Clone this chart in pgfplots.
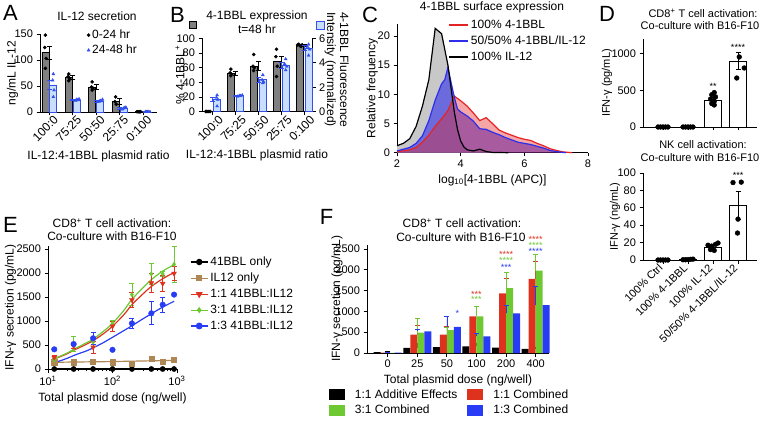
\documentclass[border=0pt]{standalone}
\usepackage{fontspec}
\setmainfont{Liberation Sans}
\usepackage{pgfplots}
\pgfplotsset{compat=1.18}

\newcommand\fs[1]{\fontsize{#1}{#1}\selectfont}

\definecolor{barGray}{RGB}{128,128,128}
\definecolor{lightBlue}{RGB}{200,222,252}
\definecolor{lineBlue}{RGB}{50,80,235}
\definecolor{histRed}{RGB}{230,35,35}
\definecolor{histBlue}{RGB}{45,45,235}
\definecolor{histGray}{RGB}{200,200,200}
\definecolor{eBrown}{RGB}{175,135,85}
\definecolor{eRed}{RGB}{222,50,30}
\definecolor{eGreen}{RGB}{110,200,50}
\definecolor{eBlue}{RGB}{40,60,245}

\pgfplotsset{
  prism/.style={
    scale only axis, anchor=south west,
    axis lines=left,
    axis line style={-, line width=0.9pt},
    every tick/.style={black, line width=0.9pt},
    tick align=outside, major tick length=3.5pt,
    /pgf/number format/assume math mode=true,
    /pgf/number format/1000 sep={},
    tick label style={font=\fs{11}},
    label style={font=\fs{12}},
    clip=false,
  },
  eb/.style={error bars/y dir=both, error bars/y explicit,
    error bars/error bar style={line width=0.8pt, #1},
    error bars/error mark options={rotate=90, mark size=2.5pt, line width=0.8pt, #1}},
  ebp/.style={error bars/y dir=plus, error bars/y explicit,
    error bars/error bar style={line width=0.8pt, #1},
    error bars/error mark options={rotate=90, mark size=2.5pt, line width=0.8pt, #1}},
  ylab/.style={ylabel style={at={(axis description cs:#1,0.5)}, anchor=center}},
}

\begin{document}
\begin{tikzpicture}
\useasboundingbox (0,0) rectangle (764pt,421pt);

% ---------- A ----------
\begin{axis}[prism, at={(40pt,309pt)}, width=117pt, height=78pt,
  xmin=-0.4, xmax=4.6, ymin=0, ymax=150, ytick={0,50,100,150},
  xtick={0,...,4}, xticklabels={100:0,75:25,50:50,25:75,0:100},
  xticklabel style={xshift=9pt, rotate=45, anchor=east, font=\fs{12}},
  ylabel={ng/mL IL-12}, ylab=-0.235, xlabel={IL-12:4-1BBL plasmid ratio},
  legend style={draw=none, fill=none, at={(0.40,1.08)}, anchor=north west,
    font=\fs{12}, row sep=1pt, inner sep=0pt, nodes={inner xsep=2pt}},
  legend image code/.code={\draw[#1] plot coordinates {(3pt,0pt)};},
  legend cell align=left]
\addplot[ybar, bar width=7pt, bar shift=-4pt, fill=barGray, draw=black, line width=0.7pt, eb=black, forget plot]
  coordinates {(0,114) +- (0,12) (1,66) +- (0,4) (2,48) +- (0,5) (3,20) +- (0,6) (4,1) +- (0,0.5)};
\addplot[ybar, bar width=7pt, bar shift=4pt, fill=lightBlue, draw=lineBlue, line width=0.8pt, eb=lineBlue, forget plot]
  coordinates {(0,52) +- (0,9) (1,23) +- (0,1.5) (2,21) +- (0,2) (3,7) +- (0,2) (4,0.5) +- (0,0.3)};
\addplot[only marks, mark=*, mark size=1.6pt, black]
  coordinates {(-0.17,148)(-0.2,124)(-0.14,103)(-0.17,84)
   (0.83,73)(0.8,68)(0.86,64)(0.83,60) (1.83,58)(1.8,48)(1.86,46)(1.83,42)
   (2.83,29)(2.8,20)(2.86,15) (3.75,0.5)(3.8,0.5)(3.85,0.5)(3.9,0.5)};
\addlegendentry{0-24 hr}
\addplot[only marks, mark=triangle*, mark size=1.7pt, lineBlue]
  coordinates {(0.17,73)(0.14,61)(0.2,42)(0.17,29)
   (1.12,22)(1.17,24)(1.22,23)(1.27,25) (2.12,20)(2.17,22)(2.22,21)(2.27,24)
   (3.12,5)(3.17,7)(3.22,8)(3.27,9) (4.1,0.3)(4.15,0.3)(4.2,0.3)(4.25,0.3)(4.3,0.3)};
\addlegendentry{24-48 hr}
\end{axis}

% ---------- B ----------
\begin{axis}[prism, at={(202pt,309.3pt)}, width=110pt, height=73.4pt,
  xmin=-0.46, xmax=4.35, ymin=0, ymax=100, ytick={0,20,...,100},
  xtick={0,...,4}, xticklabels={100:0,75:25,50:50,25:75,0:100},
  xticklabel style={xshift=11pt, rotate=45, anchor=east, font=\fs{12}},
  ylabel={\% 4-1BBL\textsuperscript{+}}, ylab=-0.2, xlabel={IL-12:4-1BBL plasmid ratio}]
\addplot[ybar, bar width=7pt, bar shift=-4.5pt, fill=barGray, draw=black, line width=0.7pt, eb=black]
  coordinates {(0,0.5) +- (0,0.3) (1,52) +- (0,3) (2,62) +- (0,6) (3,68) +- (0,8) (4,90) +- (0,1.5)};
\addplot[only marks, mark=*, mark size=1.6pt, black]
  coordinates {(-0.3,0.3)(-0.25,0.3)(-0.2,0.3)(-0.15,0.3)(-0.1,0.3)
   (0.8,58)(0.77,53)(0.83,51)(0.8,49) (1.8,78)(1.77,62)(1.83,60)(1.8,56)
   (2.8,85)(2.77,75)(2.83,62)(2.8,48) (3.72,91)(3.77,92)(3.82,90)(3.87,89)(3.92,91)};
\end{axis}
\begin{axis}[prism, at={(202pt,309.3pt)}, width=110pt, height=73.4pt,
  axis y line*=right, axis x line=none,
  xmin=-0.46, xmax=4.35, ymin=0, ymax=6, ytick={0,2,4,6}]
\addplot[ybar, bar width=7pt, bar shift=4.5pt, fill=lightBlue, draw=lineBlue, line width=0.8pt, eb=lineBlue]
  coordinates {(0,1.0) +- (0,0.15) (1,1.3) +- (0,0.05) (2,2.6) +- (0,0.2) (3,3.8) +- (0,0.25) (4,5.2) +- (0,0.2)};
\addplot[only marks, mark=triangle*, mark size=1.7pt, lineBlue]
  coordinates {(0.2,1.35)(0.17,1.15)(0.23,1.0)(0.2,0.45)
   (1.1,1.25)(1.17,1.3)(1.23,1.3)(1.3,1.35) (2.2,3.0)(2.17,2.6)(2.23,2.45)(2.2,2.35)
   (3.2,4.3)(3.15,3.9)(3.25,3.7)(3.2,3.4) (4.2,5.5)(4.15,5.3)(4.25,5.1)(4.2,4.6)};
\end{axis}

% ---------- C ----------
\begin{axis}[prism, at={(397pt,268.3pt)}, width=191pt, height=128.4pt,
  xmin=2, xmax=8, ymin=0, ymax=22, xtick={2,4,6,8}, ytick={0,5,...,20},
  ylabel={Relative frequency}, ylab=-0.13, xlabel={log\textsubscript{10}[4-1BBL (APC)]},
  legend style={draw=none, fill=none, at={(0.267,1.05)}, anchor=north west,
    font=\fs{12}, row sep=2pt, inner sep=0pt, nodes={inner xsep=2pt}},
  legend image code/.code={\draw[#1, line width=1.8pt] (0pt,0pt) -- (19pt,0pt);},
  legend cell align=left]
\addplot[draw=none, fill=histGray, forget plot] coordinates {(2.0,1.2)(2.2,1.6)(2.4,2.4)(2.6,4.5)(2.8,8)(3.0,12.5)(3.2,21.3)(3.4,20.4)(3.6,15)(3.8,7)(3.9,4)(4.0,2)(4.1,1)(4.2,0.5)(4.4,0.3)(4.6,0.6)(4.8,0.2)(5.0,0.05)(5.5,0)} \closedcycle;
\addplot[draw=none, fill=histBlue, fill opacity=0.6, forget plot] coordinates {(2.0,0.3)(2.2,0.6)(2.4,0.9)(2.6,1.6)(2.8,2.9)(3.0,5.5)(3.2,9)(3.4,11.8)(3.5,12.5)(3.6,14.6)(3.7,12)(3.8,9.5)(3.9,7.5)(4.0,7)(4.2,6.3)(4.4,5.4)(4.6,4.1)(4.8,4.0)(5.0,3.5)(5.2,3.1)(5.4,2.6)(5.6,2.2)(5.8,1.8)(6.0,1.6)(6.2,1.4)(6.4,1.1)(6.6,0.8)(6.8,0.4)(7.0,0.2)(7.2,0.05)(7.3,0)} \closedcycle;
\addplot[draw=none, fill=histRed, fill opacity=0.4, forget plot] coordinates {(2.0,0.2)(2.2,0.3)(2.4,0.5)(2.6,0.9)(2.8,1.8)(3.0,3.0)(3.2,4.5)(3.4,5.8)(3.6,7.2)(3.8,9.7)(4.0,8.9)(4.2,8.0)(4.4,6.8)(4.6,5.5)(4.8,6.0)(5.0,5.0)(5.2,3.9)(5.4,3.4)(5.6,3.0)(5.8,2.6)(6.0,2.3)(6.2,2.1)(6.4,1.6)(6.6,1.2)(6.8,0.7)(7.0,0.4)(7.2,0.15)(7.4,0.05)(7.5,0)} \closedcycle;
\addplot[histRed, line width=1.2pt] coordinates {(2.0,0.2)(2.2,0.3)(2.4,0.5)(2.6,0.9)(2.8,1.8)(3.0,3.0)(3.2,4.5)(3.4,5.8)(3.6,7.2)(3.8,9.7)(4.0,8.9)(4.2,8.0)(4.4,6.8)(4.6,5.5)(4.8,6.0)(5.0,5.0)(5.2,3.9)(5.4,3.4)(5.6,3.0)(5.8,2.6)(6.0,2.3)(6.2,2.1)(6.4,1.6)(6.6,1.2)(6.8,0.7)(7.0,0.4)(7.2,0.15)(7.4,0.05)(7.5,0)};
\addlegendentry{100\% 4-1BBL}
\addplot[histBlue, line width=1.2pt] coordinates {(2.0,0.3)(2.2,0.6)(2.4,0.9)(2.6,1.6)(2.8,2.9)(3.0,5.5)(3.2,9)(3.4,11.8)(3.5,12.5)(3.6,14.6)(3.7,12)(3.8,9.5)(3.9,7.5)(4.0,7)(4.2,6.3)(4.4,5.4)(4.6,4.1)(4.8,4.0)(5.0,3.5)(5.2,3.1)(5.4,2.6)(5.6,2.2)(5.8,1.8)(6.0,1.6)(6.2,1.4)(6.4,1.1)(6.6,0.8)(6.8,0.4)(7.0,0.2)(7.2,0.05)(7.3,0)};
\addlegendentry{50/50\% 4-1BBL/IL-12}
\addplot[black, line width=1.2pt] coordinates {(2.0,1.2)(2.2,1.6)(2.4,2.4)(2.6,4.5)(2.8,8)(3.0,12.5)(3.2,21.3)(3.4,20.4)(3.6,15)(3.8,7)(3.9,4)(4.0,2)(4.1,1)(4.2,0.5)(4.4,0.3)(4.6,0.6)(4.8,0.2)(5.0,0.05)(5.5,0)};
\addlegendentry{100\% IL-12}
\end{axis}

% ---------- D top ----------
\begin{axis}[prism, at={(643pt,294pt)}, width=114pt, height=88pt,
  xmin=-0.8, xmax=3.76, ymin=0, ymax=1200, ytick={0,500,1000},
  xtick={0,...,3}, xticklabels={},
  ylabel={IFN-γ (pg/mL)}, ylab=-0.315, label style={font=\fs{11}}]
\addplot[ybar, bar width=17pt, fill=white, draw=black, line width=0.9pt, eb=black]
  coordinates {(0,0) +- (0,0) (1,0) +- (0,0) (2,360) +- (0,40) (3,900) +- (0,120)};
\addplot[only marks, mark=*, mark size=2.4pt, black]
  coordinates {(-0.2,0)(-0.1,0)(0,0)(0.1,0)(0.2,0) (0.8,0)(0.9,0)(1,0)(1.1,0)(1.2,0)
   (2.05,470)(1.95,440)(2.1,410)(1.9,380)(2.05,350)(1.95,320)(2.05,300)
   (3.05,955)(3.25,805)(2.95,668)};
\node[font=\fs{9}] at (axis cs:2,560) {**};
\node[font=\fs{9}] at (axis cs:3,1090) {****};
\end{axis}

% ---------- D NK ----------
\begin{axis}[prism, at={(643pt,161pt)}, width=114pt, height=87pt,
  xmin=-0.8, xmax=3.76, ymin=0, ymax=100, ytick={0,20,...,100},
  xtick={0,...,3}, xticklabels={100\% Ctrl,100\% 4-1BBL,100\% IL-12,50/50\% 4-1BBL/IL-12},
  xticklabel style={rotate=45, anchor=east, font=\fs{11}},
  ylabel={IFN-γ (ng/mL)}, ylab=-0.245, label style={font=\fs{11}}]
\addplot[ybar, bar width=17pt, fill=white, draw=black, line width=0.9pt, eb=black]
  coordinates {(0,0) +- (0,0) (1,0.5) +- (0,0) (2,14.5) +- (0,2.5) (3,62.5) +- (0,16)};
\addplot[only marks, mark=*, mark size=2.4pt, black]
  coordinates {(-0.2,0)(-0.1,0)(0,0)(0.1,0)(0.2,0) (0.8,0.3)(0.9,0.3)(1,0.5)(1.1,0.8)(1.2,1)
   (1.8,17)(1.95,16)(2.1,18)(2.2,19.5)(1.9,12)(2.05,11)
   (2.8,89)(3.13,89.5)(3,47)(2.98,31)};
\node[font=\fs{9}] at (axis cs:3,97) {***};
\end{axis}

% ---------- E ----------
\begin{axis}[prism, at={(48pt,52pt)}, width=129pt, height=122.9pt,
  xmode=log, xmin=10, xmax=1000, ymin=0, ymax=2560,
  xtick={10,100,1000}, xticklabels={10\textsuperscript{1},10\textsuperscript{2},10\textsuperscript{3}},
  minor tick length=2pt,
  ytick={0,500,...,2500},
  ylabel={IFN-γ secretion (pg/mL)}, ylab=-0.29, xlabel={Total plasmid dose (ng/well)},
  legend style={draw=none, fill=none, at={(1.10,0.93)}, anchor=north west,
    font=\fs{12}, row sep=2pt, inner sep=0pt},
  legend cell align=left]
% fitted curves
\addplot[black, line width=1.2pt, forget plot] coordinates {(12,0)(900,0)};
\addplot[eBrown, line width=1.2pt, forget plot] coordinates {(12,140)(100,155)(900,180)};
\addplot[eRed, line width=1.2pt, smooth, forget plot] coordinates {(12,200)(15,250)(20,320)(25,390)(30,440)(40,520)(50,590)(70,720)(100,890)(150,1130)(200,1340)(300,1570)(400,1720)(600,1880)(900,2010)};
\addplot[eGreen, line width=1.2pt, smooth, forget plot] coordinates {(12,210)(15,260)(20,335)(25,410)(30,465)(40,550)(50,620)(70,770)(100,950)(150,1220)(200,1450)(300,1700)(400,1860)(600,2040)(900,2170)};
\addplot[eBlue, line width=1.2pt, smooth, forget plot] coordinates {(12,125)(15,165)(20,225)(25,280)(30,320)(40,380)(50,440)(70,540)(100,660)(150,800)(200,900)(300,1050)(400,1150)(600,1290)(900,1410)};
% data points
\addplot[only marks, mark=*, mark size=2.6pt, black, forget plot]
  coordinates {(12.5,0)(25,0)(50,0)(100,0)(200,0)(400,0)(600,0)(900,0)};
\addplot[only marks, mark=square*, mark size=2.6pt, eBrown, forget plot]
  coordinates {(12.5,140)(25,140)(50,155)(100,140)(200,110)(400,215)(600,150)(900,200)};
\addplot[only marks, mark=diamond*, mark size=2.2pt, eGreen, eb=eGreen, forget plot]
  coordinates {(12.5,190) +- (0,30) (25,520) +- (0,160) (50,560) +- (0,80) (100,960) +- (0,60) (200,1550) +- (0,230) (400,1980) +- (0,220) (600,1980) +- (0,60) (900,2180) +- (0,370)};
\addplot[only marks, mark=triangle*, mark options={rotate=180}, mark size=2.8pt, eRed, eb=eRed, forget plot]
  coordinates {(12.5,240) +- (0,40) (25,480) +- (0,60) (50,455) +- (0,125) (100,890) +- (0,100) (200,1440) +- (0,150) (400,1790) +- (0,200) (600,1780) +- (0,170) (900,1990) +- (0,150)};
\addplot[only marks, mark=*, mark size=2.8pt, eBlue, eb=eBlue, forget plot]
  coordinates {(12.5,410) +- (0,0) (25,520) +- (0,30) (50,640) +- (0,120) (100,400) +- (0,0) (200,950) +- (0,110) (400,1160) +- (0,240) (600,1340) +- (0,160) (900,1550) +- (0,0)};
\addlegendimage{black, line width=1.2pt, mark=*, mark size=2.6pt}
\addlegendentry{41BBL only}
\addlegendimage{eBrown, line width=1.2pt, mark=square*, mark size=2.6pt}
\addlegendentry{IL12 only}
\addlegendimage{eRed, line width=1.2pt, mark=triangle*, mark options={rotate=180}, mark size=2.8pt}
\addlegendentry{1:1 41BBL:IL12}
\addlegendimage{eGreen, line width=1.2pt, mark=diamond*, mark size=2.2pt}
\addlegendentry{3:1 41BBL:IL12}
\addlegendimage{eBlue, line width=1.2pt, mark=*, mark size=2.8pt}
\addlegendentry{1:3 41BBL:IL12}
\end{axis}

% ---------- F ----------
\begin{axis}[prism, at={(367pt,68pt)}, width=182pt, height=108.2pt,
  xmin=-0.7, xmax=5.45, ymin=0, ymax=2600, ytick={0,500,...,2500},
  xtick={0,...,5}, xticklabels={0,25,50,100,200,400},
  ylabel={IFN-γ secretion (pg/mL)}, ylab=-0.165, xlabel={Total plasmid dose (ng/well)},
  legend style={draw=none, fill=none, at={(-0.21,-0.32)}, anchor=north west,
    font=\fs{12}, row sep=1pt, column sep=8pt, inner sep=0pt},
  legend columns=2, legend cell align=left,
  legend image code/.code={\fill[#1] (0pt,-5.5pt) rectangle (16pt,5.5pt);}]
\addplot[ybar, bar width=7pt, bar shift=-10.5pt, fill=black, draw=none, ebp=black]
  coordinates {(0,20) +- (0,10) (1,125) +- (0,95) (2,140) +- (0,70) (3,160) +- (0,60) (4,130) +- (0,80) (5,100) +- (0,40)};
\addlegendentry{1:1 Additive Effects}
\addplot[ybar, bar width=7pt, bar shift=-3.5pt, fill=eRed, draw=none, ebp=eRed]
  coordinates {(0,10) +- (0,0) (1,440) +- (0,220) (2,440) +- (0,210) (3,880) +- (0,250) (4,1430) +- (0,360) (5,1780) +- (0,410)};
\addlegendentry{1:1 Combined}
\addplot[ybar, bar width=7pt, bar shift=3.5pt, fill=eGreen, draw=none, ebp=eGreen]
  coordinates {(0,3) +- (0,0) (1,490) +- (0,330) (2,550) +- (0,70) (3,880) +- (0,230) (4,1560) +- (0,380) (5,1980) +- (0,400)};
\addlegendentry{3:1 Combined}
\addplot[ybar, bar width=7pt, bar shift=10.5pt, fill=eBlue, draw=none, ebp=eBlue]
  coordinates {(0,8) +- (0,0) (1,520) +- (0,40) (2,630) +- (0,250) (3,400) +- (0,80) (4,950) +- (0,200) (5,1150) +- (0,450)};
\addlegendentry{1:3 Combined}
\node[font=\fs{9}, eBlue] at (axis cs:2.35,960) {*};
\node[font=\fs{9}, eRed] at (axis cs:3,1420) {***};
\node[font=\fs{9}, eGreen] at (axis cs:3,1280) {***};
\node[font=\fs{9}, eRed] at (axis cs:4,2360) {****};
\node[font=\fs{9}, eGreen] at (axis cs:4,2220) {****};
\node[font=\fs{9}, eBlue] at (axis cs:4,2060) {***};
\node[font=\fs{9}, eRed] at (axis cs:5,2720) {****};
\node[font=\fs{9}, eGreen] at (axis cs:5,2580) {****};
\node[font=\fs{9}, eBlue] at (axis cs:5,2440) {****};
\end{axis}

% ---------- titles, letters, legend keys ----------
\begin{scope}[every node/.style={inner sep=0pt}]
\node[font=\fs{22}] at (10.5pt,408pt) {A};
\node[font=\fs{22}] at (177.5pt,406.5pt) {B};
\node[font=\fs{22}] at (370pt,406pt) {C};
\node[font=\fs{22}] at (607pt,407pt) {D};
\node[font=\fs{22}] at (10.5pt,196pt) {E};
\node[font=\fs{22}] at (326.5pt,204.5pt) {F};
\node[font=\fs{12}] at (97pt,405pt) {IL-12 secretion};
\node[font=\fs{12}] at (257pt,405pt) {4-1BBL expression};
\node[font=\fs{12}] at (257pt,392pt) {t=48 hr};
\node[font=\fs{12}] at (492pt,414pt) {4-1BBL surface expression};
\node[font=\fs{11}] at (703pt,408pt) {CD8\textsuperscript{+} T cell activation:};
\node[font=\fs{11}] at (700pt,395pt) {Co-culture with B16-F10};
\node[font=\fs{11}] at (703pt,276pt) {NK cell activation:};
\node[font=\fs{11}] at (700pt,263pt) {Co-culture with B16-F10};
\node[font=\fs{12}] at (112pt,198pt) {CD8\textsuperscript{+} T cell activation:};
\node[font=\fs{12}] at (112pt,185pt) {Co-culture with B16-F10};
\node[font=\fs{12}] at (462pt,198pt) {CD8\textsuperscript{+} T cell activation:};
\node[font=\fs{12}] at (461pt,184pt) {Co-culture with B16-F10};
% right-hand axis title of panel B
\node[font=\fontsize{12}{13}\selectfont, rotate=-90, align=left, anchor=north west]
  at (349pt,409pt) {4-1BBL Fluorescence\\Intensity (normalized)};
\end{scope}
\draw[black, line width=0.6pt, fill=barGray] (189.5pt,392.5pt) rectangle (196.5pt,399.5pt);
\draw[lineBlue, line width=0.8pt, fill=lightBlue] (316pt,392pt) rectangle (324pt,400pt);
\end{tikzpicture}
\end{document}
